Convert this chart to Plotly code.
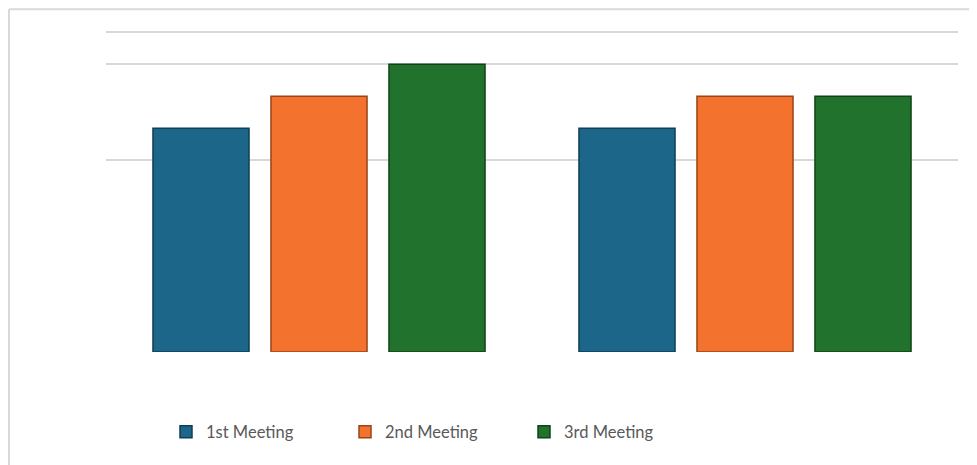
import plotly.graph_objects as go

categories = ["Group A", "Group B"]
series_names = ["1st Meeting", "2nd Meeting", "3rd Meeting"]
meeting1 = [7, 7]
meeting2 = [8, 8]
meeting3 = [9, 8]
grid_values = [6, 9, 10]

colors = ["#1B6689", "#F3722E", "#21722C"]
outlines = ["#0E3F57", "#9A4418", "#0F4416"]

# page body has an 8px default margin; compensate
OFF = 8
W, H = 977 - OFF, 465 - OFF
ymax = 10.1
unit = 32.0
ph = ymax * unit
mb = 113
mt = H - mb - ph
ml = 106 - OFF
mr = W - (958 - OFF)

fig = go.Figure()
for name, vals, c, oc in zip(series_names, [meeting1, meeting2, meeting3], colors, outlines):
    fig.add_trace(go.Bar(
        x=categories, y=vals, name=name,
        marker=dict(color=c, line=dict(color=oc, width=1.5)),
    ))

pw = W - ml - mr

fig.update_layout(
    width=W, height=H,
    margin=dict(l=ml, r=mr, t=mt, b=mb, pad=0),
    paper_bgcolor="white", plot_bgcolor="white",
    barmode="group", bargap=0.169, bargroupgap=0.186,
    showlegend=True,
    legend=dict(
        orientation="h",
        x=(166 - 106) / pw, xanchor="left",
        y=-(432 - 352) / ph, yanchor="middle",
        entrywidth=134, entrywidthmode="pixels",
        font=dict(family="Lato", size=16.5, color="#595959"),
        itemwidth=30,
    ),
    xaxis=dict(showticklabels=False, showgrid=False, zeroline=False, showline=False, ticks=""),
    yaxis=dict(range=[0, ymax], tickvals=grid_values, showticklabels=False,
               showgrid=True, gridcolor="#D9D9D9", gridwidth=1.5,
               zeroline=False, showline=False, ticks=""),
    shapes=[
        dict(type="line", xref="paper", yref="paper",
             x0=(1 - ml) / pw, x1=(1 - ml) / pw,
             y0=(H - mb - 1) / ph, y1=-(mb) / ph,
             line=dict(color="#D9D9D9", width=2)),
        dict(type="line", xref="paper", yref="paper",
             x0=(1 - ml) / pw, x1=(W - ml) / pw,
             y0=(H - mb - 1) / ph, y1=(H - mb - 1) / ph,
             line=dict(color="#D9D9D9", width=2)),
    ],
)

fig.write_html("out.html")
